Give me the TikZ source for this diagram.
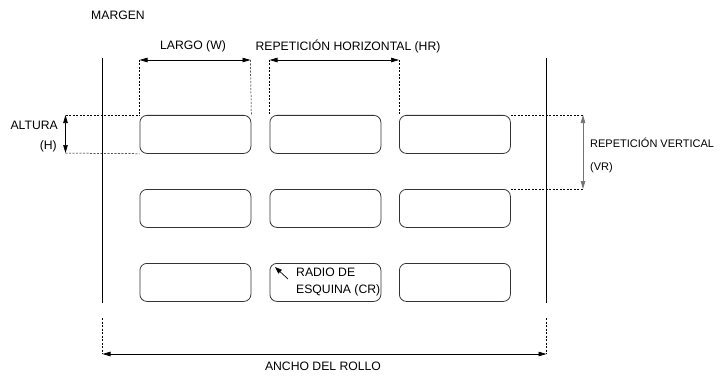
\documentclass[tikz,border=0pt]{standalone}
\usepackage{fontspec}
\setmainfont{Liberation Sans}
\usetikzlibrary{arrows.meta}
\begin{document}
\begin{tikzpicture}[x=1pt,y=-1pt,
  lab/.style={draw=black!80,line width=0.8pt,rounded corners=7pt,minimum width=111pt,minimum height=38pt,inner sep=0pt,anchor=north west},
  txt/.style={font=\fontsize{12.2}{16.5}\selectfont,inner sep=0pt},
  smalltxt/.style={font=\fontsize{11}{16}\selectfont,inner sep=0pt},
  dim/.style={line width=0.7pt,{Triangle[length=8pt,width=4.5pt]}-{Triangle[length=8pt,width=4.5pt]}},
  ext/.style={dashed,dash pattern=on 2pt off 1.5pt,line width=0.5pt},
  edge/.style={line width=1.2pt}]
\useasboundingbox (0,0) rectangle (722,377);
% labels
\foreach \r/\y in {1/115,2/189,3/263}{
  \node[lab] (r\r1) at (139.5,\y) {};
  \node[lab] (r\r2) at (269.5,\y) {};
  \node[lab] (r\r3) at (399,\y) {};
}
% edges of roll
\coordinate (lt) at (102.5,58); \coordinate (lb) at (102.5,303);
\coordinate (rt) at (546.5,58); \coordinate (rb) at (546.5,303);
\draw[edge] (lt) -- (lb);
\draw[edge] (rt) -- (rb);
% texts
\node[txt,anchor=west] (margen) at (91,15) {MARGEN};
\node[txt] (largo) at (193,46) {LARGO (W)};
\node[txt] (hr) at (348,46) {REPETICIÓN HORIZONTAL (HR)};
\node[txt,anchor=east] (altura) at (58,125) {ALTURA};
\node[txt,anchor=east] (h) at (57,146) {(H)};
\node[smalltxt,anchor=west] (vr) at (590,143) {REPETICIÓN VERTICAL};
\node[smalltxt,anchor=west] (vr2) at (590,168) {(VR)};
\node[txt,anchor=west,align=left] (cr) at (296,282) {RADIO DE\\ESQUINA (CR)};
\node[txt] (ancho) at (323,366) {ANCHO DEL ROLLO};
% W dimension
\coordinate (w1) at (139.5,60); \coordinate (w2) at (250.5,60);
\draw[ext] (w1) -- (r11.north west);
\draw[ext] (w2) -- (r11.north east);
\draw[dim] (w1) -- (w2);
% HR dimension
\coordinate (h1) at (269.5,60); \coordinate (h2) at (399,60);
\draw[ext] (h1) -- (r12.north west);
\draw[ext] (h2) -- (r13.north west);
\draw[dim] (h1) -- (h2);
% H dimension
\coordinate (a1) at (65.5,115); \coordinate (a2) at (65.5,153);
\draw[ext] (a1) -- (r11.north west);
\draw[ext] (a2) -- (r11.south west);
\draw[dim] (a1) -- (a2);
% VR dimension
\coordinate (v1) at (583,115); \coordinate (v2) at (583,189);
\draw[ext] (r13.north east) -- (v1);
\draw[ext] (r23.north east) -- (v2);
\draw[dim,draw=black!55] (v1) -- (v2);
% roll width
\coordinate (b1) at (102.5,318); \coordinate (b2) at (546.5,318);
\coordinate (c1) at (102.5,354); \coordinate (c2) at (546.5,354);
\draw[ext] (b1) -- (c1);
\draw[ext] (b2) -- (c2);
\draw[dim] (c1) -- (c2);
% corner radius arrow
\coordinate (cra) at (288,279); \coordinate (crb) at (275,267);
\draw[line width=0.7pt,-{Triangle[length=7pt,width=5pt]}] (cra) -- (crb);
\end{tikzpicture}
\end{document}
